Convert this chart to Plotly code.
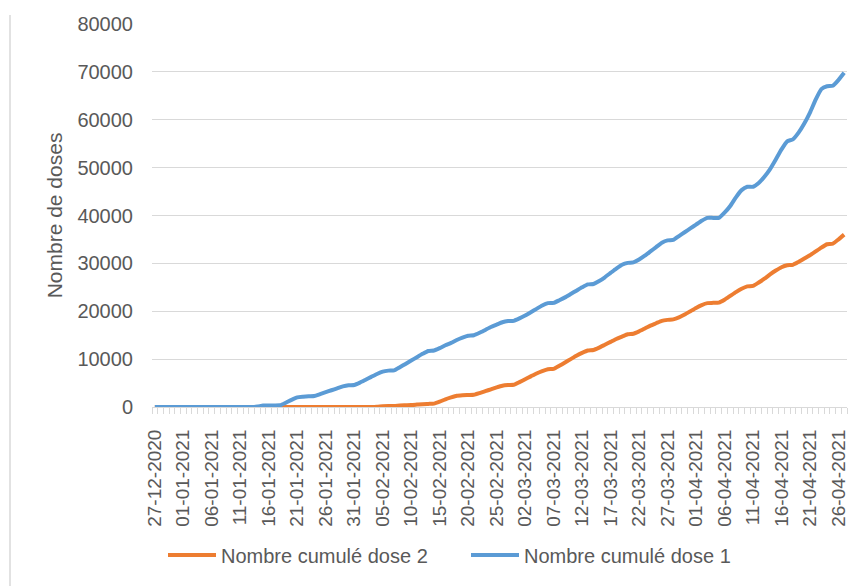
import plotly.graph_objects as go
import pandas as pd

# Categories: one point per day
dates = pd.date_range("2020-12-27", "2021-04-27", freq="D")
tick_dates = list(dates[::5])
tick_labels = [d.strftime("%d-%m-%Y") for d in tick_dates]

series1_name = "Nombre cumulé dose 1"
series2_name = "Nombre cumulé dose 2"

dose1 = [
    0, 0, 0, 0, 0, 0, 0, 0, 0, 0,
    0, 0, 0, 0, 0, 0, 0, 0, 100, 300,
    300, 300, 350, 900, 1500, 2000, 2150, 2250, 2300, 2700,
    3100, 3500, 3900, 4300, 4550, 4600, 5100, 5700, 6300, 6900,
    7400, 7600, 7650, 8300, 9000, 9700, 10400, 11100, 11700, 11800,
    12300, 12900, 13400, 14000, 14500, 14900, 15000, 15500, 16100, 16700,
    17200, 17700, 17950, 18000, 18500, 19100, 19800, 20500, 21200, 21700,
    21750, 22300, 22900, 23600, 24300, 25000, 25600, 25700, 26300, 27100,
    28000, 28900, 29700, 30100, 30200, 30800, 31600, 32500, 33400, 34300,
    34800, 34900, 35700, 36500, 37300, 38100, 38900, 39500, 39500, 39500,
    40600, 42000, 43800, 45300, 46000, 46000, 46800, 48100, 49700, 51700,
    53800, 55500, 55900, 57300, 59200, 61500, 64200, 66400, 67000, 67100,
    68300, 69800,
]

dose2 = [
    0, 0, 0, 0, 0, 0, 0, 0, 0, 0,
    0, 0, 0, 0, 0, 0, 0, 0, 0, 0,
    0, 0, 0, 0, 0, 0, 0, 0, 0, 0,
    0, 0, 0, 0, 0, 0, 0, 0, 0, 50,
    150, 200, 200, 300, 350, 400, 500, 600, 650, 700,
    1100, 1600, 2000, 2350, 2450, 2500, 2550, 2900, 3300, 3700,
    4100, 4450, 4600, 4650, 5200, 5800, 6400, 7000, 7500, 7900,
    7950, 8600, 9300, 10000, 10700, 11300, 11800, 11900, 12400, 13000,
    13600, 14200, 14700, 15200, 15300, 15800, 16400, 17000, 17500, 18000,
    18200, 18300, 18700, 19300, 20000, 20700, 21300, 21700, 21750, 21800,
    22400, 23200, 24000, 24700, 25200, 25300, 26000, 26800, 27700, 28500,
    29200, 29600, 29700, 30300, 31000, 31700, 32500, 33300, 34000, 34100,
    35000, 36000,
]

y_title = "Nombre de doses"

TEXT = "#595959"
GRID = "#d9d9d9"
FONT = "Liberation Sans, Arial, sans-serif"

fig = go.Figure()
fig.add_trace(go.Scatter(
    x=dates, y=dose2, name=series2_name, mode="lines",
    line=dict(color="#ED7D31", width=4, shape="spline", smoothing=0.5),
))
fig.add_trace(go.Scatter(
    x=dates, y=dose1, name=series1_name, mode="lines",
    line=dict(color="#5B9BD5", width=4, shape="spline", smoothing=0.5),
))

fig.update_layout(
    width=859, height=586,
    margin=dict(l=152, r=12, t=24, b=179, autoexpand=False),
    paper_bgcolor="white", plot_bgcolor="white",
    font=dict(family=FONT, size=19, color=TEXT),
    showlegend=True,
    legend=dict(
        orientation="h", xref="container", yref="container",
        x=163 / 859, y=1 - 555 / 586, xanchor="left", yanchor="middle",
        itemwidth=48, entrywidth=240, entrywidthmode="pixels",
        font=dict(size=20, color=TEXT),
        bgcolor="rgba(0,0,0,0)", traceorder="normal",
    ),
    shapes=[dict(
        type="line", xref="paper", yref="paper",
        x0=(10 - 152) / 695, x1=(10 - 152) / 695,
        y0=(407 - 586) / 383, y1=(407 - 15) / 383,
        line=dict(color=GRID, width=1.5),
    )],
)

fig.update_xaxes(
    type="date",
    range=["2020-12-26 12:00", "2021-04-27 12:00"],
    tickmode="array", tickvals=tick_dates, ticktext=tick_labels,
    tickangle=-90, ticks="", ticklabelstandoff=14,
    showgrid=False, showline=True, linecolor=GRID, linewidth=1,
    zeroline=False,
    minor=dict(ticks="outside", ticklen=6, tickcolor=GRID, tickwidth=1,
               dtick=86400000, tick0="2020-12-26 12:00", showgrid=False),
    tickfont=dict(size=19, color=TEXT),
)

fig.update_yaxes(
    range=[0, 80000], dtick=10000, tickformat="d",
    showgrid=True, gridcolor=GRID, gridwidth=1,
    zeroline=False, showline=False, ticks="",
    ticklabelstandoff=18,
    tickfont=dict(size=20, color=TEXT),
    title=dict(text=y_title, standoff=9, font=dict(size=21, color=TEXT)),
)

fig.write_html(
    "out.html",
    config={"displayModeBar": False},
    post_script="document.body.style.margin='0px';document.body.style.overflow='hidden';",
)
